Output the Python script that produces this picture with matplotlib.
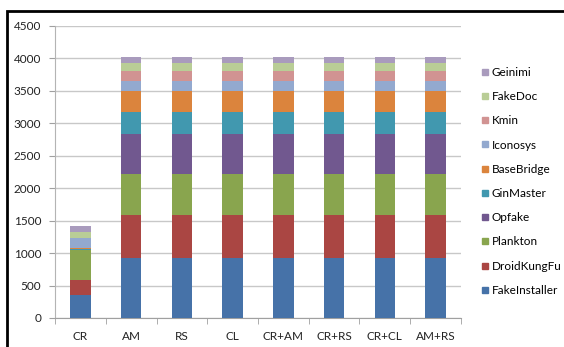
import numpy as np
import matplotlib.pyplot as plt
from matplotlib.patches import Rectangle
from matplotlib.lines import Line2D

plt.rcParams['font.family'] = ['Lato', 'DejaVu Sans']

# feature sets (x axis)
groups = ["CR", "AM", "RS", "CL", "CR+AM", "CR+RS", "CR+CL", "AM+RS"]

# malware families, bottom to top of the stack
families = ["FakeInstaller", "DroidKungFu", "Plankton", "Opfake", "GinMaster",
            "BaseBridge", "Iconosys", "Kmin", "FakeDoc", "Geinimi"]
colors = ["#4672A8", "#AA4643", "#89A54E", "#71588F", "#4198AF",
          "#DB843D", "#93A9CF", "#D19392", "#B9CD96", "#A99BBD"]

# samples per family for each feature set
full_counts = [925, 667, 625, 613, 339, 330, 152, 147, 132, 92]
cr_counts = [350, 240, 450, 5, 20, 5, 160, 5, 95, 92]
counts = [cr_counts] + [full_counts] * 7

fig = plt.figure(figsize=(5.64, 3.47), dpi=100)
ax = fig.add_axes([55 / 564, 1 - 318 / 347, 406 / 564, (318 - 25.7) / 347])

data = np.array(counts)
x = np.arange(len(groups))
bottom = np.zeros(len(groups))
for i, fam in enumerate(families):
    ax.bar(x, data[:, i], 0.4, bottom=bottom, color=colors[i], label=fam, zorder=3)
    bottom += data[:, i]

ax.set_xlim(-0.5, len(groups) - 0.5)
ax.set_ylim(0, 4500)
ax.set_yticks(np.arange(0, 4501, 500))
ax.grid(axis="y", color="#C8C8C8", linewidth=1.0, zorder=0)
ax.set_xticks(x)
ax.set_xticklabels(groups)
ax.set_xticks(np.arange(-0.5, len(groups), 1), minor=True)
ax.tick_params(axis="x", which="major", length=0, pad=9, labelsize=8.5, colors="#222222")
ax.tick_params(axis="x", which="minor", length=4, color="#A0A0A0", direction="out")
ax.tick_params(axis="y", length=4, color="#A0A0A0", labelsize=8.5, pad=6, labelcolor="#222222")
for s in ["top", "right"]:
    ax.spines[s].set_visible(False)
ax.spines["left"].set_color("#B4B4B4")
ax.spines["bottom"].set_color("#A0A0A0")

# legend, reversed so the top of the stack is listed first
handles = [Line2D([], [], marker="s", linestyle="", markersize=5,
                  markerfacecolor=c, markeredgecolor=c) for c in colors]
leg = fig.legend(handles[::-1], families[::-1], loc="upper left",
                 bbox_to_anchor=(475 / 564, 1 - 61 / 347), frameon=False,
                 fontsize=8.5, handlelength=0.7, handletextpad=0.2,
                 labelspacing=1.12, borderpad=0)

# outer frame
fig.add_artist(Rectangle((7 / 564, -0.2), 1.2, 1.2 - 11 / 347,
                         transform=fig.transFigure, fill=False,
                         edgecolor="black", linewidth=2.0))

fig.savefig("out.png", dpi=100)
